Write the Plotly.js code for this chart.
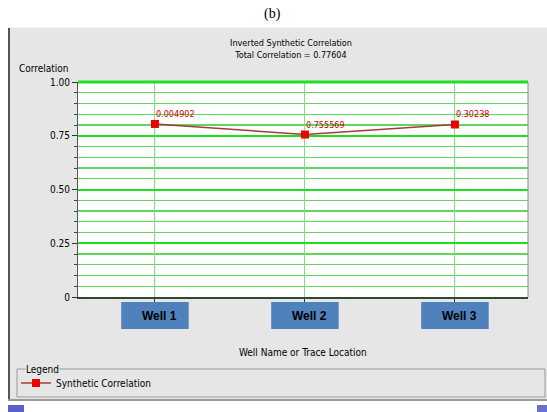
<!DOCTYPE html>
<html>
<head>
<meta charset="utf-8">
<script src="https://cdn.plot.ly/plotly-3.0.1.min.js"></script>
<style>
html,body{margin:0;padding:0;background:#fff;}
#chart{width:547px;height:412px;}
</style>
</head>
<body>
<div id="chart"></div>
<script>
// ---- data ----
var wells = ["Well 1", "Well 2", "Well 3"];
var correlation = [0.804902, 0.755569, 0.80238];
var pointLabels = ["0.004902", "0.755569", "0.30238"];
var yTickVals = [0, 0.25, 0.5, 0.75, 1.0];
var yTickText = ["0", "0.25", "0.50", "0.75", "1.00"];
var seriesName = "Synthetic Correlation";
var chartTitle = "Inverted Synthetic Correlation";
var totalCorrelation = "Total Correlation = 0.77604";

var NARROW = "DejaVu Sans Condensed, Liberation Sans Narrow, Arial Narrow, sans-serif";
var xIdx = wells.map(function(_, i){ return i; });

// plot area geometry helpers (pixels -> paper)
var L = 78, R = 528, T = 82, B = 297, W = 547, H = 412;
function px(x){ return (x - L) / (R - L); }
function py(y){ return (B - y) / (B - T); }

var trace = {
  x: xIdx,
  y: correlation,
  type: "scatter",
  mode: "lines+markers",
  name: seriesName,
  line: {color: "#a83a3a", width: 1.5},
  marker: {symbol: "square", size: 8, color: "#ee0000"},
  cliponaxis: false
};

var shapes = [
  // top white band
  {type:"rect", xref:"paper", yref:"paper", x0:px(-5), x1:px(W+5), y0:py(27.5), y1:py(-5), fillcolor:"#ffffff", line:{width:0}},
  // left white strip
  {type:"rect", xref:"paper", yref:"paper", x0:px(-5), x1:px(8), y0:py(H+5), y1:py(-5), fillcolor:"#ffffff", line:{width:0}},
  // bottom white band
  {type:"rect", xref:"paper", yref:"paper", x0:px(-5), x1:px(W+5), y0:py(H+5), y1:py(401), fillcolor:"#ffffff", line:{width:0}},
  // left dark border
  {type:"line", xref:"paper", yref:"paper", x0:px(9), x1:px(9), y0:py(28), y1:py(401), line:{color:"#555555", width:2}},
  // bottom grey border
  {type:"line", xref:"paper", yref:"paper", x0:px(8), x1:px(W), y0:py(400), y1:py(400), line:{color:"#9a9a9a", width:2}},
  // bottom blue corners
  {type:"rect", xref:"paper", yref:"paper", x0:px(8), x1:px(24), y0:py(H), y1:py(405), fillcolor:"#5a62c8", line:{width:0}},
  {type:"rect", xref:"paper", yref:"paper", x0:px(537), x1:px(W), y0:py(H), y1:py(405), fillcolor:"#6a72d0", line:{width:0}},
  // right border of plot
  {type:"line", xref:"paper", yref:"paper", x0:1, x1:1, y0:0, y1:1, line:{color:"#8a8a8a", width:1}},
  // top border of plot (bright green)
  {type:"line", xref:"paper", yref:"paper", x0:0, x1:1, y0:1, y1:1, line:{color:"#1ee01e", width:3}},
  // legend frame
  {type:"rect", xref:"paper", yref:"paper", x0:px(17), x1:px(545), y0:py(397), y1:py(369), line:{color:"#9a9a9a", width:1}, fillcolor:"rgba(0,0,0,0)"}
];

var annotations = [
  {text:"(b)", xref:"paper", yref:"paper", x:px(272), y:py(14), xanchor:"center", yanchor:"middle", showarrow:false,
   font:{family:"Liberation Serif, Times New Roman, serif", size:14, color:"#000"}},
  {text:"Correlation", xref:"paper", yref:"paper", x:px(17), y:py(68), xanchor:"left", yanchor:"middle", showarrow:false,
   font:{family:NARROW, size:10, color:"#000"}},
  {text:"Well Name or Trace Location", xref:"paper", yref:"paper", x:px(303), y:py(352), xanchor:"center", yanchor:"middle", showarrow:false,
   font:{family:NARROW, size:10, color:"#000"}},
  {text:"Legend", xref:"paper", yref:"paper", x:px(25), y:py(369), xanchor:"left", yanchor:"middle", showarrow:false,
   bgcolor:"#e6e6e6", borderpad:0, font:{family:NARROW, size:10, color:"#000"}}
];

// point value labels, anchored at each data point
xIdx.forEach(function(i){
  annotations.push({text:pointLabels[i], xref:"x", yref:"y", x:i, y:correlation[i],
    xanchor:"left", yanchor:"bottom", xshift:-1, yshift:3, showarrow:false,
    font:{family:NARROW, size:9, color:"#d40000"}});
});

// blue well boxes + labels, positioned on the category axis
wells.forEach(function(w, i){
  shapes.push({type:"rect", xref:"x", yref:"paper", x0:i-0.225, x1:i+0.225, y0:py(329), y1:py(302),
    fillcolor:"#4f81bd", line:{width:0}});
  annotations.push({text:"<b>"+w+"</b>", xref:"x", yref:"paper", x:i+0.03, y:py(315.5),
    xanchor:"center", yanchor:"middle", showarrow:false,
    font:{family:"Liberation Sans, Arial, sans-serif", size:12, color:"#000"}});
});

var layout = {
  width: W, height: H,
  margin: {l: L, r: W - R, t: T, b: H - B, pad: 0},
  paper_bgcolor: "#e6e6e6",
  plot_bgcolor: "#ffffff",
  showlegend: true,
  title: {
    text: chartTitle + "<br>" + totalCorrelation,
    xref: "container", x: 291 / W, xanchor: "center",
    yref: "container", y: 1 - 46 / H, yanchor: "top",
    font: {family: NARROW, size: 9, color: "#000"}
  },
  xaxis: {
    range: [-0.513, 2.487],
    tickvals: xIdx,
    showticklabels: false,
    ticks: "outside", ticklen: 4, tickcolor: "#333",
    showgrid: true, gridcolor: "#7fe07f", gridwidth: 1,
    showline: true, linecolor: "#2e4a2e", linewidth: 2,
    zeroline: false, fixedrange: true
  },
  yaxis: {
    range: [0, 1],
    tickvals: yTickVals,
    ticktext: yTickText,
    ticks: "outside", ticklen: 5, tickcolor: "#333", tickwidth: 1,
    tickfont: {family: NARROW, size: 10, color: "#000"},
    showgrid: true, gridcolor: "#1ee01e", gridwidth: 2,
    minor: {dtick: 0.05, showgrid: true, gridcolor: "#5fd65f", gridwidth: 1.3,
            ticks: "outside", ticklen: 3, tickcolor: "#444"},
    showline: true, linecolor: "#555", linewidth: 1,
    zeroline: false, fixedrange: true
  },
  legend: {
    x: px(16), xanchor: "left",
    y: py(383), yanchor: "middle",
    bgcolor: "rgba(0,0,0,0)", borderwidth: 0,
    font: {family: NARROW, size: 10, color: "#000"},
    itemwidth: 30
  },
  shapes: shapes,
  annotations: annotations
};

Plotly.newPlot("chart", [trace], layout, {displayModeBar: false, staticPlot: true});
</script>
</body>
</html>
